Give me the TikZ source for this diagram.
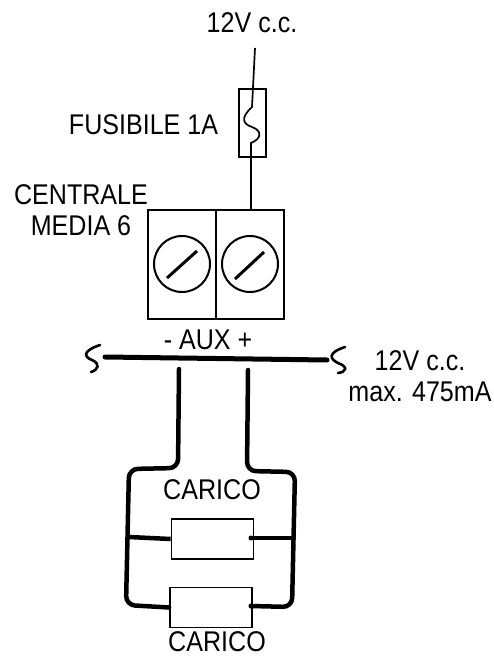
\documentclass[tikz,border=0pt]{standalone}
\usepackage{fontspec}
\setmainfont[FakeStretch=0.88]{Liberation Sans}
\usetikzlibrary{positioning}
\tikzset{
    label text/.style={inner sep=0pt, align=center, font=\fontsize{28.5}{31}\selectfont},
    thin wire/.style={line width=1.7pt},
    thick wire/.style={line width=4.5pt, line cap=round, rounded corners=9pt},
    break mark/.style={line width=2.6pt, line cap=round},
    terminal/.style={draw, line width=2pt, minimum width=68pt, minimum height=109pt, inner sep=0pt},
    screw/.style={draw, circle, line width=2pt, minimum size=56pt, inner sep=0pt},
    load box/.style={draw, line width=1.7pt, minimum width=82pt, minimum height=40pt, inner sep=0pt},
    fuse box/.style={draw, line width=2pt, minimum width=27pt, minimum height=68pt, inner sep=0pt},
}
\begin{document}
\begin{tikzpicture}[x=1pt,y=-1pt]
    \useasboundingbox (0,0) rectangle (493,658);
    % supply and fuse
    \node[label text] (supply) at (252,23) {12V c.c.};
    \node[fuse box] (fuse) at (252,123) {};
    \node[label text] (fuselabel) at (143.5,125) {FUSIBILE 1A};
    \coordinate (feed) at (255,48);
    % terminals
    \node[terminal] (termneg) at (182,264.5) {};
    \node[terminal] (termpos) at (250,264.5) {};
    \node[screw] (screwneg) at (182,264) {};
    \node[screw] (screwpos) at (250,264) {};
    \node[label text] (board) at (81,210) {CENTRALE\\MEDIA 6};
    \node[label text] (aux) at (208,340) {- AUX +};
    \draw[thin wire] (feed) -- (252,107) .. controls (240,118) and (243,124) .. (252,127) .. controls (263,131) and (261,139) .. (251,143) -- (termpos.north -| 251,0);
    \draw[line width=3pt] (167,278) -- (197,251);
    \draw[line width=3pt] (235,279) -- (264,252);
    % bus
    \coordinate (busleft) at (105,357);
    \coordinate (busright) at (327,360);
    \draw[line width=5pt, line cap=round] (busleft) -- (busright);
    \draw[break mark] (100,345) .. controls (82,351) and (84,357) .. (92,360) .. controls (101,364) and (98,370) .. (91,372);
    \draw[break mark] (345,347) .. controls (327,353) and (330,359) .. (338,363) .. controls (349,367) and (346,372) .. (338,373);
    \node[label text] (output) at (420,376) {12V c.c.\\max. 475mA};
    % loads
    \node[load box] (loadtop) at (212.5,539) {};
    \node[load box] (loadbottom) at (211,607.5) {};
    \node[label text] (loadlabeltop) at (212,490) {CARICO};
    \node[label text] (loadlabelbottom) at (217,642) {CARICO};
    \coordinate (negdrop) at (179,369);
    \coordinate (posdrop) at (248,370);
    \draw[thick wire] (negdrop) -- (178,468) -- (129,469) -- (126,605) -- (loadbottom.west);
    \draw[thick wire] (posdrop) -- (247,471) -- (295,472) -- (292,607) -- (251,606);
    \draw[line width=4.5pt] (129,537) -- (loadtop.west);
    \draw[line width=4.5pt] (251,538) -- (293,538);
    \fill (251,538) circle (2.5pt);
    \fill (251,606) circle (2.5pt);
\end{tikzpicture}
\end{document}
